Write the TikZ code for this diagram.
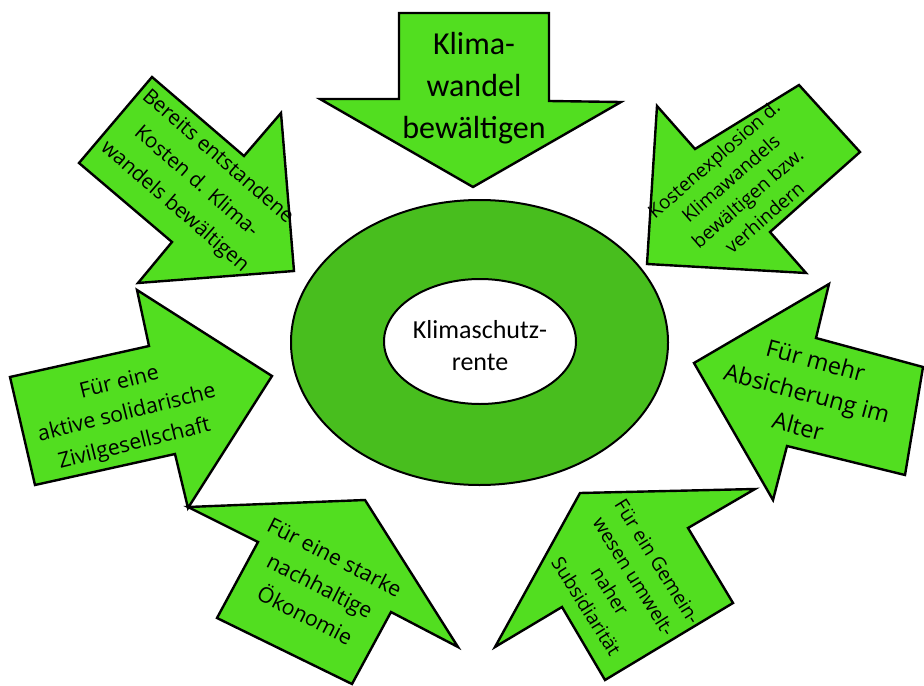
\documentclass[tikz,border=0pt]{standalone}
\usepackage{fontspec}
\setmainfont{Open Sans}
\newfontfamily\calibrifont{Carlito}
\definecolor{arrowgreen}{RGB}{82,222,32}
\definecolor{ringgreen}{RGB}{72,190,30}

\begin{document}
\begin{tikzpicture}[x=0.75pt,y=-0.75pt,
    bigarrow/.style={fill=arrowgreen,draw=black,line width=1.8pt},
    ring/.style={draw=black,line width=1.5pt},
    txt/.style={align=center,inner sep=0pt}]

  \useasboundingbox (0,0) rectangle (924,685);

  % Centre ring
  \filldraw[ring,fill=ringgreen] (479.5,342.5) ellipse (188.5 and 142.5);
  \filldraw[ring,fill=white] (480,341.5) ellipse (96 and 62.5);
  \node[txt,font={\calibrifont\fontsize{19.5}{24}\selectfont}] (rente)
    at (480,346) {Klimaschutz-\\rente};

  % Top arrow
  \filldraw[bigarrow] (399,13) -- (549,13) -- (549,101) -- (621,102)
    -- (473,187) -- (320,99) -- (399,99) -- cycle;
  \node[txt,font={\calibrifont\fontsize{24}{31.5}\selectfont}] (wandel)
    at (474,88) {Klima-\\wandel\\bewältigen};

  % Upper left arrow
  \filldraw[bigarrow] (152,77) -- (244,156) -- (281,113) -- (294,271)
    -- (138,283) -- (172,242) -- (79,163) -- cycle;
  \node[txt,rotate=-41,font={\fontsize{15.4}{24.7}\selectfont}] (kosten)
    at (196,182) {Bereits entstandene\\Kosten d. Klima-\\wandels bewältigen};

  % Upper right arrow
  \filldraw[bigarrow] (657,106) -- (695,149) -- (799,85) -- (860,152)
    -- (770,232) -- (806,273) -- (647,264) -- cycle;
  \node[txt,rotate=41,font={\fontsize{14.2}{19.3}\selectfont}] (explosion)
    at (739,188) {Kostenexplosion d.\\Klimawandels\\bewältigen bzw.\\verhindern};

  % Left arrow
  \filldraw[bigarrow] (137,290) -- (149,346) -- (10,377) -- (35,485)
    -- (175,454) -- (188,508) -- (272,376) -- cycle;
  \node[txt,rotate=14,font={\fontsize{16}{23.5}\selectfont}] (zivil)
    at (127,414) {Für eine\\aktive solidarische\\Zivilgesellschaft};

  % Right arrow
  \filldraw[bigarrow] (829,284) -- (816,338) -- (923,367) -- (905,475)
    -- (787,446) -- (773,500) -- (694,363) -- cycle;
  \node[txt,rotate=-15,font={\fontsize{17.6}{25.5}\selectfont}] (alter)
    at (807,393) {Für mehr\\Absicherung im\\Alter};

  % Lower left arrow
  \filldraw[bigarrow] (188,507) -- (365,500) -- (458,647) -- (391,612)
    -- (352,684) -- (217,618) -- (258,542) -- cycle;
  \node[txt,rotate=-27,font={\fontsize{16}{24.5}\selectfont}] (oekonomie)
    at (320,586) {Für eine starke\\nachhaltige\\Ökonomie};

  % Lower right arrow
  \filldraw[bigarrow] (580,493) -- (755,489) -- (688,528) -- (733,603)
    -- (605,680) -- (562,607) -- (495,647) -- cycle;
  \node[txt,rotate=-58,font={\fontsize{14.4}{21}\selectfont}] (gemein)
    at (622,584) {Für ein Gemein-\\wesen umwelt-\\naher\\Subsidiarität};

\end{tikzpicture}
\end{document}
